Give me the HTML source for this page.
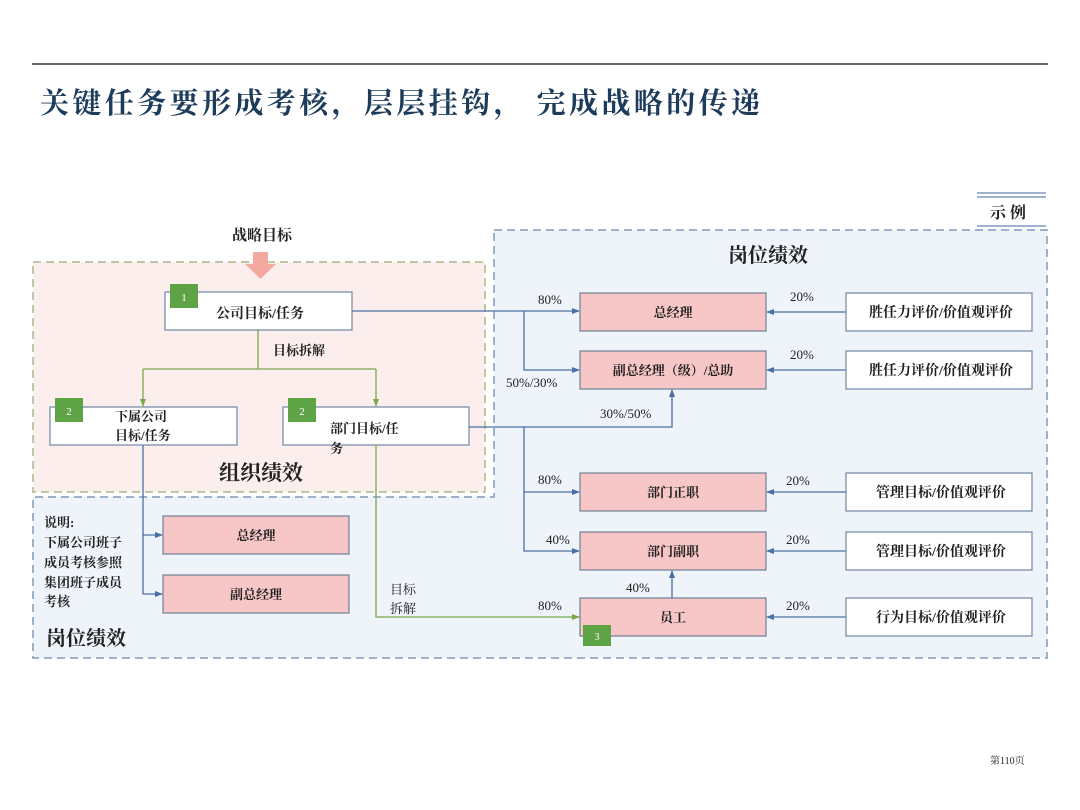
<!DOCTYPE html>
<html><head><meta charset="utf-8"><style>
html,body{margin:0;padding:0;background:#fff;}
svg{display:block;}
text{font-family:"Liberation Serif","Noto Serif CJK SC","Noto Sans CJK SC",serif;fill:#222;}
</style></head><body>
<svg width="1080" height="810" viewBox="0 0 1080 810" xmlns="http://www.w3.org/2000/svg">
<defs>
<marker id="ab" markerWidth="8" markerHeight="8" refX="7" refY="4" orient="auto" markerUnits="userSpaceOnUse"><path d="M0,1 L8,4 L0,7 z" fill="#4a6fa5"/></marker>
<marker id="ag" markerWidth="8" markerHeight="8" refX="7" refY="4" orient="auto" markerUnits="userSpaceOnUse"><path d="M0,1 L8,4 L0,7 z" fill="#7aa84a"/></marker>
</defs>
<line x1="32" y1="64" x2="1048" y2="64" stroke="#333" stroke-width="1.5"/>
<text x="40" y="113" font-size="29" font-weight="bold" fill="#1d3b5a" style="fill:#1d3b5a" textLength="720" lengthAdjust="spacing">关键任务要形成考核，层层挂钩， 完成战略的传递</text>

<!-- 示例 -->
<line x1="977" y1="193" x2="1046" y2="193" stroke="#7f9bbd" stroke-width="1.5"/>
<line x1="977" y1="197" x2="1046" y2="197" stroke="#7f9bbd" stroke-width="1.5"/>
<text x="990" y="218" font-size="16" font-weight="bold">示 例</text>
<line x1="977" y1="226" x2="1046" y2="226" stroke="#7f9bbd" stroke-width="1.5"/>

<!-- blue region L shape -->
<path d="M494,230 L1047,230 L1047,658 L33,658 L33,497 L494,497 Z" fill="#eef4fa" stroke="#7f9bbd" stroke-width="1.5" stroke-dasharray="8,5"/>
<!-- pink region -->
<rect x="33" y="262" width="452" height="230" fill="#fdeeee" stroke="#a8b88a" stroke-width="1.5" stroke-dasharray="8,5"/>

<text x="262" y="240" font-size="15" font-weight="bold" text-anchor="middle">战略目标</text>
<path d="M253,252 L268,252 L268,264 L276,264 L260.5,279 L245,264 L253,264 Z" fill="#f4a9a0"/>

<!-- org boxes -->
<rect x="165" y="292" width="187" height="38" fill="#fff" stroke="#6f86a5" stroke-width="1.2"/>
<rect x="170" y="284" width="28" height="24" fill="#5ea346"/>
<text x="184" y="301" font-size="11" text-anchor="middle" style="fill:#fff">1</text>
<text x="260" y="318" font-size="14" font-weight="bold" text-anchor="middle">公司目标/任务</text>

<text x="273" y="355" font-size="13" font-weight="bold">目标拆解</text>
<path d="M258,330 L258,369 M143,369 L376,369" stroke="#7aa84a" stroke-width="1.3" fill="none"/>
<line x1="143" y1="369" x2="143" y2="406" stroke="#7aa84a" stroke-width="1.3" marker-end="url(#ag)"/>
<line x1="376" y1="369" x2="376" y2="406" stroke="#7aa84a" stroke-width="1.3" marker-end="url(#ag)"/>

<rect x="50" y="407" width="187" height="38" fill="#fff" stroke="#6f86a5" stroke-width="1.2"/>
<rect x="55" y="398" width="28" height="24" fill="#5ea346"/>
<text x="69" y="415" font-size="11" text-anchor="middle" style="fill:#fff">2</text>
<text x="115" y="421" font-size="13" font-weight="bold">下属公司</text>
<text x="115" y="440" font-size="13" font-weight="bold">目标/任务</text>

<rect x="283" y="407" width="186" height="38" fill="#fff" stroke="#6f86a5" stroke-width="1.2"/>
<rect x="288" y="398" width="28" height="24" fill="#5ea346"/>
<text x="302" y="415" font-size="11" text-anchor="middle" style="fill:#fff">2</text>
<text x="330" y="433" font-size="13" font-weight="bold">部门目标/任</text>
<text x="330" y="453" font-size="13" font-weight="bold">务</text>

<text x="261" y="480" font-size="21" font-weight="bold" text-anchor="middle">组织绩效</text>
<text x="768" y="262" font-size="20" font-weight="bold" text-anchor="middle">岗位绩效</text>
<text x="46" y="645" font-size="20" font-weight="bold">岗位绩效</text>

<!-- explanation -->
<g font-size="13" font-weight="bold">
<text x="44" y="527">说明:</text>
<text x="44" y="547">下属公司班子</text>
<text x="44" y="567">成员考核参照</text>
<text x="44" y="587">集团班子成员</text>
<text x="44" y="606">考核</text>
</g>

<!-- blue connectors -->
<g stroke="#4a6fa5" stroke-width="1.3" fill="none">
<line x1="352" y1="311" x2="579" y2="311" marker-end="url(#ab)"/>
<path d="M524,311 L524,370 L579,370" marker-end="url(#ab)"/>
<path d="M469,427 L672,427 L672,390" marker-end="url(#ab)"/>
<path d="M524,427 L524,492 L579,492" marker-end="url(#ab)"/>
<path d="M524,492 L524,551 L579,551" marker-end="url(#ab)"/>
<path d="M143,445 L143,535 L162,535" marker-end="url(#ab)"/>
<path d="M143,535 L143,594 L162,594" marker-end="url(#ab)"/>
<line x1="672" y1="598" x2="672" y2="571" marker-end="url(#ab)"/>
<line x1="846" y1="312" x2="767" y2="312" marker-end="url(#ab)"/>
<line x1="846" y1="370" x2="767" y2="370" marker-end="url(#ab)"/>
<line x1="846" y1="492" x2="767" y2="492" marker-end="url(#ab)"/>
<line x1="846" y1="551" x2="767" y2="551" marker-end="url(#ab)"/>
<line x1="846" y1="617" x2="767" y2="617" marker-end="url(#ab)"/>
</g>
<path d="M376,445 L376,617 L579,617" stroke="#7aa84a" stroke-width="1.3" fill="none" marker-end="url(#ag)"/>
<text x="390" y="594" font-size="13">目标</text>
<text x="390" y="613" font-size="13">拆解</text>

<!-- pink boxes -->
<g fill="#f7c6c6" stroke="#6f7f95" stroke-width="1.2">
<rect x="580" y="293" width="186" height="38"/>
<rect x="580" y="351" width="186" height="38"/>
<rect x="580" y="473" width="186" height="38"/>
<rect x="580" y="532" width="186" height="38"/>
<rect x="580" y="598" width="186" height="38"/>
<rect x="163" y="516" width="186" height="38"/>
<rect x="163" y="575" width="186" height="38"/>
</g>
<g font-size="13" font-weight="bold" text-anchor="middle">
<text x="673" y="317">总经理</text>
<text x="673" y="375">副总经理（级）/总助</text>
<text x="673" y="497">部门正职</text>
<text x="673" y="556">部门副职</text>
<text x="673" y="622">员工</text>
<text x="256" y="540">总经理</text>
<text x="256" y="599">副总经理</text>
</g>
<rect x="583" y="625" width="28" height="21" fill="#5ea346"/>
<text x="597" y="640" font-size="10" text-anchor="middle" style="fill:#fff">3</text>

<!-- white boxes -->
<g fill="#fff" stroke="#6f86a5" stroke-width="1.2">
<rect x="846" y="293" width="186" height="38"/>
<rect x="846" y="351" width="186" height="38"/>
<rect x="846" y="473" width="186" height="38"/>
<rect x="846" y="532" width="186" height="38"/>
<rect x="846" y="598" width="186" height="38"/>
</g>
<g font-size="14" font-weight="bold" text-anchor="middle">
<text x="941" y="317">胜任力评价/价值观评价</text>
<text x="941" y="375">胜任力评价/价值观评价</text>
<text x="941" y="497">管理目标/价值观评价</text>
<text x="941" y="556">管理目标/价值观评价</text>
<text x="941" y="622">行为目标/价值观评价</text>
</g>

<!-- percentages -->
<g font-size="13" style="fill:#333">
<text x="538" y="304">80%</text>
<text x="506" y="387">50%/30%</text>
<text x="600" y="418">30%/50%</text>
<text x="790" y="301">20%</text>
<text x="790" y="359">20%</text>
<text x="538" y="484">80%</text>
<text x="786" y="485">20%</text>
<text x="546" y="544">40%</text>
<text x="786" y="544">20%</text>
<text x="626" y="592">40%</text>
<text x="538" y="610">80%</text>
<text x="786" y="610">20%</text>
</g>
<text x="990" y="764" font-size="10" font-family="Liberation Sans, Noto Sans CJK SC, sans-serif">第110页</text>
</svg>
</body></html>
